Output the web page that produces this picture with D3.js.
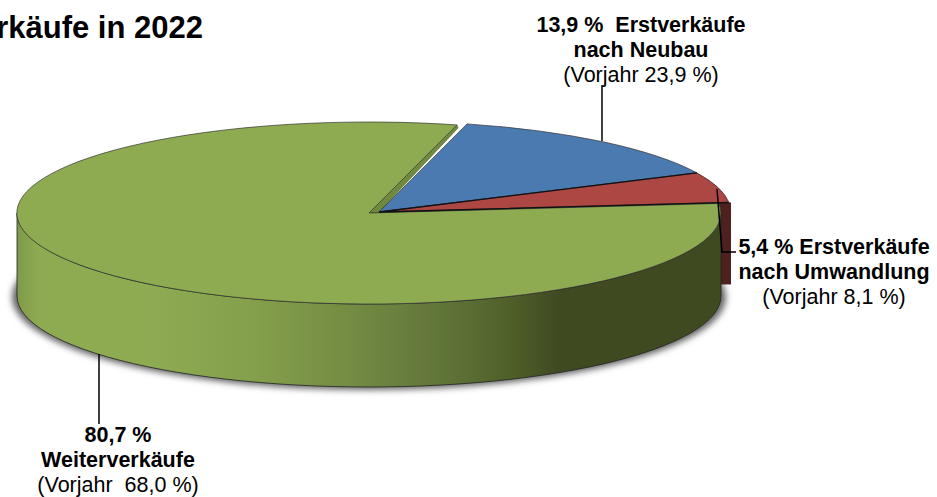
<!DOCTYPE html>
<html>
<head>
<meta charset="utf-8">
<style>
  html, body { margin: 0; padding: 0; background: #fff; overflow: hidden; }
  text { font-family: "Liberation Sans", Arial, sans-serif; fill: #000; text-anchor: middle; }
</style>
<script src="https://cdn.jsdelivr.net/npm/d3@7"></script>
</head>
<body>
<div id="chart"></div>
<script>
const categories = ["Erstverkäufe nach Neubau", "Erstverkäufe nach Umwandlung", "Weiterverkäufe"];
const shares = [13.9, 5.4, 80.7];
const colors = ["#4a7ab0", "#ac4744", "#8eab52"];
const labelLines = [
  ["13,9 %  Erstverkäufe", "nach Neubau", "(Vorjahr 23,9 %)"],
  ["5,4 % Erstverkäufe", "nach Umwandlung", "(Vorjahr 8,1 %)"],
  ["80,7 %", "Weiterverkäufe", "(Vorjahr  68,0 %)"]
];
const title = "Weiterverkäufe in 2022";

const width = 937, height = 497;
const rx = 352, ry = 91, depth = 83;
const startAngle = 14.5 * Math.PI / 180;
// blue and red are pulled out a little to the right
const centers = [[379, 212], [379, 212], [369, 213]];
const labelPos = [[641, 32], [834, 253.5], [118, 441.5]];
const lineGap = 25;
const leaders = [
  [[602, 85], [602, 141]],
  [[717, 189], [722, 252], [736, 252]],
  [[99, 354], [99, 424]]
];

const svg = d3.select("#chart").append("svg")
  .attr("width", width)
  .attr("height", height);

const defs = svg.append("defs");
defs.append("filter").attr("id", "blur")
  .attr("x", "-5%").attr("y", "-10%").attr("width", "110%").attr("height", "120%")
  .append("feGaussianBlur").attr("stdDeviation", 3);

const grad = defs.append("linearGradient").attr("id", "wall")
  .attr("gradientUnits", "userSpaceOnUse")
  .attr("x1", 17).attr("x2", 721).attr("y1", 0).attr("y2", 0);
[[0, "#7f9a48"], [0.03, "#8eab52"], [0.19, "#8eab52"], [0.33, "#85a04c"], [0.47, "#748c43"],
 [0.615, "#5f7338"], [0.7, "#4f6029"], [0.77, "#3f4a21"], [1, "#3f4a21"]].forEach(s => {
  grad.append("stop").attr("offset", s[0]).attr("stop-color", s[1]);
});

const pie = d3.pie().sort(null).startAngle(startAngle).endAngle(startAngle + 2 * Math.PI);
const slices = pie(shares);
const arc = d3.arc().innerRadius(0).outerRadius(1);

function pt(c, a) {
  return [c[0] + rx * Math.sin(a), c[1] - ry * Math.cos(a)];
}
// side wall between two angles, walks the top edge and back along the bottom
function wall(c, a0, a1) {
  const top = d3.range(0, 61).map(i => pt(c, a0 + (a1 - a0) * i / 60));
  const bottom = top.slice().reverse().map(p => [p[0], p[1] + depth]);
  return d3.line()(top.concat(bottom)) + "Z";
}

// drop shadow
svg.append("ellipse")
  .attr("cx", centers[2][0]).attr("cy", centers[2][1] + depth + 1)
  .attr("rx", rx + 5).attr("ry", ry + 2)
  .attr("fill", "#666")
  .attr("filter", "url(#blur)");

// red side sticks out behind the green one, drawn as the flat cut face
const gStart = pt(centers[2], slices[2].startAngle);
const rEnd = pt(centers[1], slices[1].endAngle);
svg.append("rect")
  .attr("x", gStart[0])
  .attr("y", rEnd[1])
  .attr("width", centers[1][0] + rx - gStart[0])
  .attr("height", depth - 1)
  .attr("fill", "#4f2020");

// green front wall
svg.append("path")
  .attr("d", wall(centers[2], Math.PI / 2, 3 * Math.PI / 2))
  .attr("fill", "url(#wall)")
  .attr("stroke", "#222")
  .attr("stroke-width", 0.8);

// cut face of the green slice next to the gap
const gEnd = pt(centers[2], slices[2].endAngle);
svg.append("path")
  .attr("d", d3.line()([centers[2], gEnd, [gEnd[0] + 1, gEnd[1] + 3], centers[0]]) + "Z")
  .attr("fill", "#6f8a3c")
  .attr("stroke", "#4d5f2a")
  .attr("stroke-width", 0.5);

// top faces
svg.append("g").selectAll("path")
  .data(slices)
  .join("path")
  .attr("transform", (d, i) => `translate(${centers[i]}) scale(${rx},${ry})`)
  .attr("d", arc)
  .attr("fill", (d, i) => colors[i])
  .attr("stroke", "#333")
  .attr("stroke-width", 0.7)
  .style("vector-effect", "non-scaling-stroke");

// heavier edges between the slices
svg.append("path")
  .attr("d", d3.line()([pt(centers[0], slices[0].endAngle), centers[0], pt(centers[1], slices[1].endAngle)]))
  .attr("fill", "none")
  .attr("stroke", "#111")
  .attr("stroke-width", 1.4);

// leader lines
svg.append("g").selectAll("path")
  .data(leaders)
  .join("path")
  .attr("d", d => d3.line()(d))
  .attr("fill", "none")
  .attr("stroke", "#000")
  .attr("stroke-width", 1.5);

// labels
labelLines.forEach((lines, i) => {
  const t = svg.append("text").attr("font-size", 21.5);
  lines.forEach((s, j) => {
    t.append("tspan")
      .attr("x", labelPos[i][0])
      .attr("y", labelPos[i][1] + j * lineGap)
      .attr("font-weight", j < 2 ? "bold" : "normal")
      .style("white-space", "pre")
      .text(s);
  });
});

svg.append("text")
  .attr("x", 203).attr("y", 38)
  .attr("font-size", 31)
  .attr("font-weight", "bold")
  .style("text-anchor", "end")
  .text(title);
</script>
</body>
</html>
